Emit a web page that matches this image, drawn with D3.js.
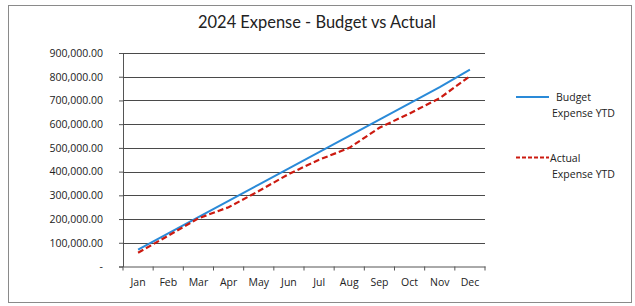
<!DOCTYPE html>
<html>
<head>
<meta charset="utf-8">
<script src="https://cdn.jsdelivr.net/npm/d3@7"></script>
<style>
  html, body { margin: 0; padding: 0; background: #fff; }
  svg { display: block; }
  text { font-family: "Open Sans", "Liberation Sans", sans-serif; fill: #222; }
</style>
</head>
<body>
<svg id="chart" width="635" height="306"></svg>
<script>
const months = ["Jan","Feb","Mar","Apr","May","Jun","Jul","Aug","Sep","Oct","Nov","Dec"];
const budgetYTD = [71000, 140000, 208000, 277000, 345000, 414000, 482000, 551000, 619000, 688000, 756000, 830000];
const actualYTD = [58000, 130000, 203000, 250000, 318000, 390000, 450000, 500000, 585000, 645000, 710000, 802000];
const yTicks = [0, 100000, 200000, 300000, 400000, 500000, 600000, 700000, 800000, 900000];
const title = "2024 Expense - Budget vs Actual";
const seriesNames = [["Budget", "Expense YTD"], ["Actual", "Expense YTD"]];

const svg = d3.select("#chart");
const plot = { left: 123, right: 485, top: 53, bottom: 266.5 };

// outer frame
svg.append("rect").attr("x", 8.5).attr("y", 5.5).attr("width", 623).attr("height", 297)
  .attr("fill", "#fff").attr("stroke", "#8a8a8a").attr("stroke-width", 1);

const x = d3.scaleBand().domain(months).range([plot.left, plot.right]).padding(0);
const y = d3.scaleLinear().domain([0, 900000]).range([plot.bottom, plot.top]);

// title, fitted to the reference width
const t = svg.append("text").attr("x", 317).attr("y", 28).attr("text-anchor", "middle")
  .style("font-family", 'Lato, "Open Sans", sans-serif')
  .style("font-size", "16px").text(title);
const tw = t.node().getComputedTextLength();
t.style("font-size", (16 * 238 / tw).toFixed(2) + "px");

// y axis
const yAxis = d3.axisLeft(y).tickValues(yTicks).tickSize(4).tickPadding(16)
  .tickFormat(d => d === 0 ? "-" : d3.format(",.2f")(d));
const gy = svg.append("g").attr("transform", `translate(${plot.left},0)`).call(yAxis);
gy.select(".domain").attr("stroke", "#555");
gy.selectAll(".tick line").attr("stroke", "#555");
gy.selectAll(".tick text").style("font-size", "10.5px").style("font-family", '"Open Sans", sans-serif').attr("fill", "#222");

// gridlines
svg.append("g").selectAll("line").data(yTicks.filter(d => d > 0)).join("line")
  .attr("x1", plot.left).attr("x2", plot.right)
  .attr("y1", d => Math.round(y(d)) + 0.5).attr("y2", d => Math.round(y(d)) + 0.5)
  .attr("stroke", "#4a4a4a").attr("stroke-width", 1);

// x axis with ticks at band edges
const gx = svg.append("g").attr("transform", `translate(0,${plot.bottom})`)
  .call(d3.axisBottom(x).tickSize(0).tickPadding(12));
gx.select(".domain").attr("stroke", "#555");
gx.selectAll(".tick text").style("font-size", "10.5px").style("font-family", '"Open Sans", sans-serif').attr("fill", "#222");
const edges = months.map(m => x(m)).concat([x(months[months.length - 1]) + x.bandwidth()]);
gx.append("g").selectAll("line").data(edges).join("line")
  .attr("x1", d => d).attr("x2", d => d).attr("y1", 0).attr("y2", 4)
  .attr("stroke", "#555");

const cx = m => x(m) + x.bandwidth() / 2;
const line = d3.line().x((d, i) => cx(months[i])).y(d => y(d));

svg.append("path").datum(budgetYTD).attr("d", line)
  .attr("fill", "none").attr("stroke", "#2a8ad8").attr("stroke-width", 2);
svg.append("path").datum(actualYTD).attr("d", line)
  .attr("fill", "none").attr("stroke", "#cc1a10").attr("stroke-width", 2.2)
  .attr("stroke-dasharray", "6,3");

// legend
const leg = svg.append("g");
const legItems = [
  { name: seriesNames[0], color: "#2a8ad8", dash: null, y: 97, tx: 556 },
  { name: seriesNames[1], color: "#cc1a10", dash: "4,2", y: 157.5, tx: 550 }
];
legItems.forEach(it => {
  leg.append("line").attr("x1", 516).attr("x2", 549).attr("y1", it.y).attr("y2", it.y)
    .attr("stroke", it.color).attr("stroke-width", 2).attr("stroke-dasharray", it.dash);
  leg.append("text").attr("x", it.tx).attr("y", it.y + 4).style("font-size", "10.5px").text(it.name[0]);
  leg.append("text").attr("x", 552).attr("y", it.y + 20).style("font-size", "10.5px").text(it.name[1]);
});
</script>
</body>
</html>
